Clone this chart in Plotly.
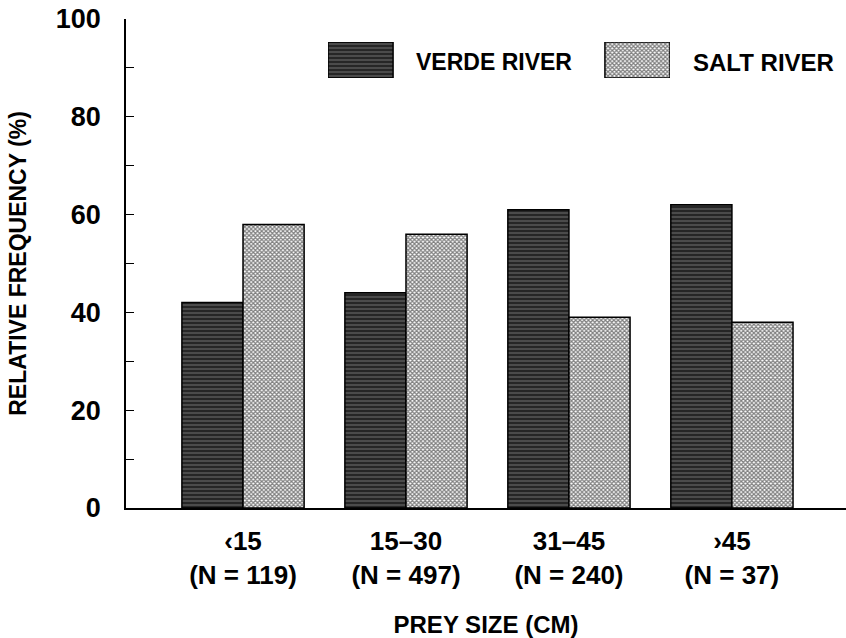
import plotly.graph_objects as go

categories = ["\u203915<br>(N = 119)", "15\u201330<br>(N = 497)", "31\u201345<br>(N = 240)", "\u203a45<br>(N = 37)"]
series_names = ["VERDE RIVER", "SALT RIVER"]
verde = [42, 44, 61, 62]
salt = [58, 56, 39, 38]
y_ticks = [0, 20, 40, 60, 80, 100]

FONT = "Liberation Sans Narrow, Arial Narrow, Liberation Sans, sans-serif"

def bold(size):
    return dict(family=FONT, size=size, color="black", weight="bold")

verde_pattern = dict(shape="-", bgcolor="#262626", fgcolor="#a0a0a0", size=4, solidity=0.3)
salt_pattern = dict(shape="x", bgcolor="#ffffff", fgcolor="#000000", size=3, solidity=0.65)

xpos = list(range(len(categories)))

fig = go.Figure()
fig.add_trace(go.Bar(x=xpos, y=verde, name=series_names[0],
                     marker=dict(color="#262626", pattern=verde_pattern, line=dict(color="black", width=1.5)),
                     showlegend=False))
fig.add_trace(go.Bar(x=xpos, y=salt, name=series_names[1],
                     marker=dict(color="#ffffff", pattern=salt_pattern, line=dict(color="black", width=1.5)),
                     showlegend=False))

# legend swatches on a hidden overlay axis
fig.add_trace(go.Bar(x=[0], y=[1], xaxis="x2", yaxis="y2", width=0.235, offset=-0.1175,
                     marker=dict(color="#262626", pattern=verde_pattern, line=dict(color="black", width=1.5)),
                     showlegend=False, hoverinfo="skip"))
fig.add_trace(go.Bar(x=[1], y=[1], xaxis="x2", yaxis="y2", width=0.235, offset=-0.1175,
                     marker=dict(color="#ffffff", pattern=salt_pattern, line=dict(color="black", width=1.5)),
                     showlegend=False, hoverinfo="skip"))

W, H = 846, 638
L, R, T, B = 126, 0, 19, 130
pw, ph = W - L - R, H - T - B

def px_x(p):
    return (p - L) / pw

def px_y(p):
    return (H - B - p) / ph

fig.update_layout(
    width=W, height=H,
    margin=dict(l=L, r=R, t=T, b=B, pad=0, autoexpand=False),
    paper_bgcolor="white", plot_bgcolor="white",
    barmode="group", bargap=0.25, bargroupgap=0,
    font=bold(26),
    xaxis=dict(range=[-0.718, 3.70], tickvals=xpos, ticktext=categories,
               showline=True, linecolor="black", linewidth=1.5, ticks="",
               showgrid=False, zeroline=False, ticklabelstandoff=9, automargin=False,
               title=dict(text="PREY SIZE (CM)", standoff=34, font=bold(24)),
               tickfont=bold(26)),
    yaxis=dict(range=[0, 100], tickvals=y_ticks, showline=True, linecolor="black", linewidth=1.5,
               ticks="inside", ticklen=8, tickwidth=1, tickcolor="black",
               minor=dict(ticks="inside", dtick=10, ticklen=8, tickwidth=1, tickcolor="black", showgrid=False),
               showgrid=False, zeroline=False, ticklabelstandoff=18, tickfont=bold(27), automargin=False,
               title=dict(text="RELATIVE FREQUENCY (%)", standoff=23, font=bold(23))),
    xaxis2=dict(domain=[px_x(328), px_x(670)], range=[-0.1175, 1.1175], visible=False, anchor="y2"),
    yaxis2=dict(domain=[px_y(78), px_y(42)], range=[0, 1], visible=False, anchor="x2"),
    annotations=[
        dict(text=series_names[0], xref="paper", yref="paper", x=px_x(414), y=px_y(62),
             xanchor="left", yanchor="middle", showarrow=False, font=bold(23)),
        dict(text=series_names[1], xref="paper", yref="paper", x=px_x(691), y=px_y(62),
             xanchor="left", yanchor="middle", showarrow=False, font=bold(24)),
    ],
)

fig.write_html("out.html")
